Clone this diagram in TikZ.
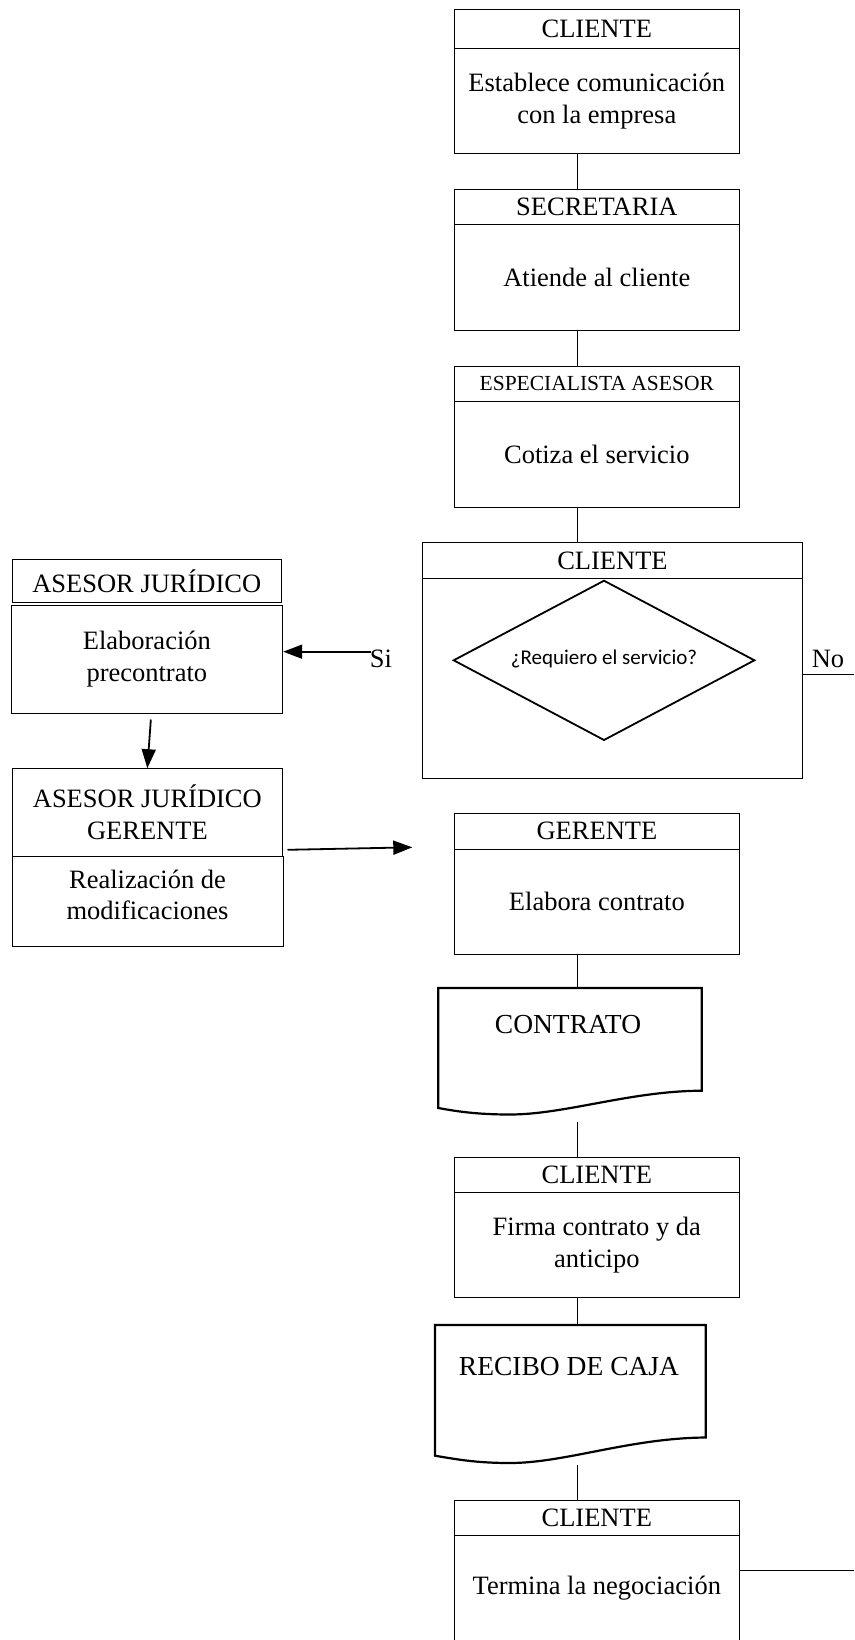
\documentclass[tikz,border=0pt]{standalone}
\usepackage{fontspec}
\setmainfont{Liberation Serif}
\newfontfamily\calibfont{Carlito}
\usetikzlibrary{shapes.geometric,arrows.meta}
\begin{document}
\begin{tikzpicture}[x=1pt,y=-1pt,
  box/.style={draw, line width=1pt, inner sep=0pt, align=center, font=\fontsize{26.5}{31.8}\selectfont},
  conn/.style={line width=1pt},
  arr/.style={line width=1.8pt, -{Triangle[length=19pt,width=14pt]}},
  docline/.style={line width=2.2pt, line join=miter},
  doctext/.style={inner sep=0pt, font=\fontsize{27.5}{33}\selectfont},
  lbl/.style={inner sep=0pt, align=center, font=\fontsize{26.5}{31.8}\selectfont}]
\useasboundingbox (0,0) rectangle (854,1640);
\clip (0,0) rectangle (854,1640);
\coordinate (cx) at (577.3,0);
% column boxes
\node[box, minimum width=285pt, minimum height=38.6pt] (h1) at (596.8,29) {CLIENTE};
\node[box, minimum width=285pt, minimum height=105pt] (b1) at (596.8,100.8) {\raisebox{-3pt}{\parbox{280pt}{\centering Establece comunicación\\con la empresa}}};
\node[box, minimum width=285pt, minimum height=35pt] (h2) at (596.8,206.8) {SECRETARIA};
\node[box, minimum width=285pt, minimum height=106pt] (b2) at (596.8,277.3) {Atiende al cliente};
\node[box, minimum width=285pt, minimum height=35pt, font=\fontsize{21.5}{26}\selectfont] (h3) at (596.8,383.8) {ESPECIALISTA ASESOR};
\node[box, minimum width=285pt, minimum height=106pt] (b3) at (596.8,454.3) {Cotiza el servicio};
% decision
\node[box, minimum width=379.7pt, minimum height=35.6pt] (hb) at (612.45,560.5) {CLIENTE};
\node[box, minimum width=379.7pt, minimum height=200pt] (bb) at (612.45,678.3) {};
\draw[line width=1.8pt, line join=miter] (453.7,660.3) -- (604,580.7) -- (754.4,660.3) -- (604,740) -- cycle;
\node[inner sep=0pt, font=\calibfont\fontsize{21}{25}\selectfont] (dm) at (604,658.5) {¿Requiero el servicio?};
\node[lbl] (si) at (381,659) {Si};
\node[lbl] (no) at (828,659) {No};
% left boxes
\node[box, minimum width=269.6pt, minimum height=43.4pt] (aj1) at (146.8,581) {ASESOR JURÍDICO};
\node[box, minimum width=271.7pt, minimum height=107.3pt] (el) at (146.85,659.35) {Elaboración\\precontrato};
\node[box, minimum width=270.7pt, minimum height=87.3pt] (ajg) at (147.35,812.35) {ASESOR JURÍDICO\\GERENTE};
\node[box, minimum width=271pt, minimum height=90pt] (rl) at (147.5,901) {};
\node[lbl] (rltxt) at (147.5,895) {Realización de\\modificaciones};
% gerente
\node[box, minimum width=284.2pt, minimum height=35.7pt] (hg) at (596.9,831.15) {GERENTE};
\node[box, minimum width=284.2pt, minimum height=105.3pt] (bg) at (596.9,901.65) {Elabora contrato};
% contrato document
\draw[docline] (438.3,988) -- (701.7,988) -- (701.7,1090.7)
  .. controls (630,1091) and (565,1114.5) .. (510,1114.5)
  .. controls (475,1114.5) and (455,1111) .. (438.3,1108) -- cycle;
\node[doctext] (ctr) at (568,1025) {CONTRATO};
\coordinate (ctrtop) at (577.3,988);
\coordinate (ctrbot) at (577.3,1122.3);
% firma
\node[box, minimum width=285pt, minimum height=35pt] (hf) at (596.8,1174.5) {CLIENTE};
\node[box, minimum width=285pt, minimum height=105.7pt] (bf) at (596.8,1244.85) {Firma contrato y da\\anticipo};
% recibo document
\draw[docline] (435,1325) -- (705.7,1325) -- (705.7,1437.5)
  .. controls (630,1438) and (565,1463) .. (510,1463)
  .. controls (475,1463) and (455,1459) .. (435,1455.7) -- cycle;
\node[doctext] (rcb) at (569,1367) {RECIBO DE CAJA};
\coordinate (rcbtop) at (577.3,1325);
\coordinate (rcbbot) at (577.3,1465);
% termina
\node[box, minimum width=285pt, minimum height=35pt] (ht) at (596.8,1517.5) {CLIENTE};
\node[box, minimum width=285pt, minimum height=107pt] (bt) at (596.8,1588.5) {Termina la negociación};
% connectors
\draw[conn] (b1.south -| cx) -- (h2.north -| cx);
\draw[conn] (b2.south -| cx) -- (h3.north -| cx);
\draw[conn] (b3.south -| cx) -- (hb.north -| cx);
\draw[conn] (bg.south -| cx) -- (ctrtop);
\draw[conn] (ctrbot) -- (hf.north -| cx);
\draw[conn] (bf.south -| cx) -- (rcbtop);
\draw[conn] (rcbbot) -- (ht.north -| cx);
\coordinate (siend) at (371,651.7);
\draw[arr] (siend) -- (el.east |- siend);
\draw[arr] ([xshift=4pt,yshift=-6pt]el.south) -- (ajg.north);
\coordinate (rend) at (412.3,847.3);
\draw[arr] ([xshift=4.3pt,yshift=6.7pt]ajg.south east) -- (rend);
\coordinate (noend) at (854,674);
\draw[conn] (bb.east |- noend) -- (noend);
\coordinate (tend) at (854,1570.4);
\draw[conn] (bt.east |- tend) -- (tend);
\end{tikzpicture}
\end{document}
